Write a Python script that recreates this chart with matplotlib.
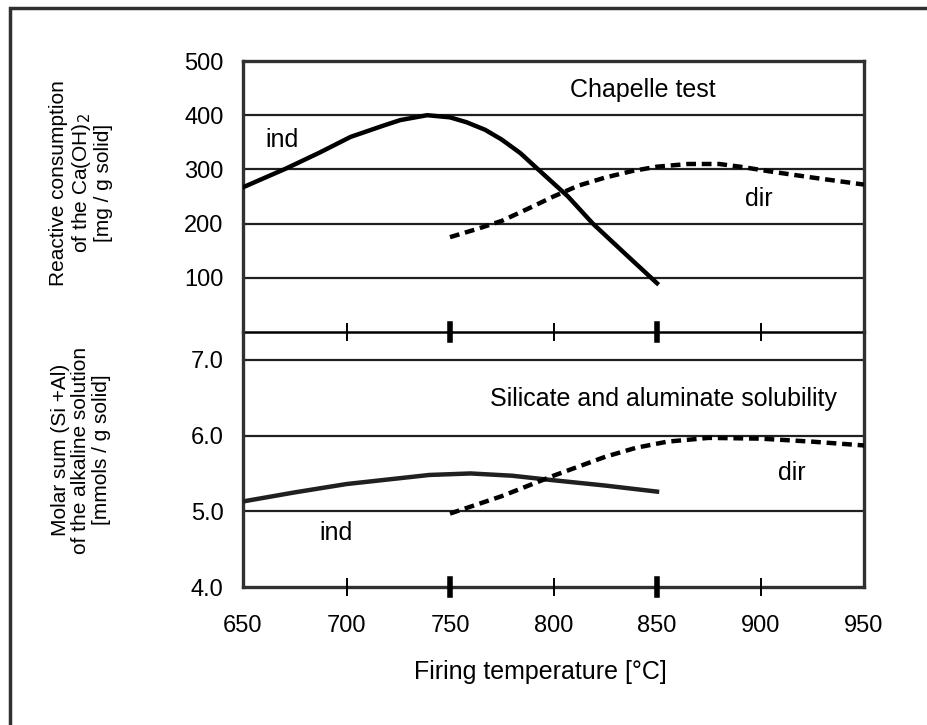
import matplotlib.pyplot as plt
from matplotlib.patches import Rectangle

plt.rcParams['font.family'] = ['Liberation Sans', 'DejaVu Sans']

# Chapelle test [mg Ca(OH)2 / g solid]
ind_top_t = [650, 671, 687, 702, 718, 726, 739, 750, 758, 767, 775, 784, 792,
             807, 819, 835, 850]
ind_top_v = [267, 302, 331, 360, 381, 391, 400, 396, 387, 373, 355, 330, 302,
             250, 200, 143, 90]
dir_top_t = [750, 763, 775, 788, 800, 812, 825, 838, 850, 865, 880, 892, 905,
             925, 950]
dir_top_v = [175, 190, 205, 228, 250, 270, 285, 297, 305, 310, 310, 304, 296,
             285, 272]

# Si + Al solubility [mmols / g solid]
ind_bot_t = [650, 675, 700, 720, 740, 760, 780, 800, 825, 850]
ind_bot_v = [5.13, 5.25, 5.36, 5.42, 5.48, 5.50, 5.47, 5.41, 5.34, 5.26]
dir_bot_t = [750, 775, 800, 825, 840, 855, 875, 900, 925, 950]
dir_bot_v = [4.97, 5.20, 5.47, 5.72, 5.84, 5.92, 5.97, 5.96, 5.92, 5.87]

x_ticks = [650, 700, 750, 800, 850, 900, 950]
top_ticks = [100, 200, 300, 400, 500]
bot_ticks = [4.0, 5.0, 6.0, 7.0]

fig = plt.figure(figsize=(9.27, 7.25), dpi=100)
W, H = 927, 725
left, right = 243 / W, 864 / W
y_top, y_mid, y_bot = 1 - 61 / H, 1 - 332 / H, 1 - 587 / H

ax1 = fig.add_axes([left, y_mid, right - left, y_top - y_mid])
ax2 = fig.add_axes([left, y_bot, right - left, y_mid - y_bot])
ax1.patch.set_visible(False)
ax2.patch.set_visible(False)

# outer frame (only left and top edges in view)
fig.patches.append(Rectangle((10 / W, -0.1), 1.2, 1 - 8 / H + 0.1,
                             transform=fig.transFigure, fill=False,
                             lw=2.5, ec='#303030'))

ax1.set_xlim(650, 950)
ax1.set_ylim(0, 500)
ax2.set_xlim(650, 950)
ax2.set_ylim(4.0, 4.0 + (587 - 332) / 75.7)

for ax, grid in ((ax1, [100, 200, 300, 400]), (ax2, [5.0, 6.0, 7.0])):
    for g in grid:
        ax.axhline(g, color='#202020', lw=1.6, zorder=1)
    for s in ax.spines.values():
        s.set_linewidth(2.4)
        s.set_color('#303030')
    ax.tick_params(axis='y', length=0, labelsize=17, pad=14)
    ax.tick_params(axis='x', length=0)
    # thin and thick x ticks crossing the axis line
    for t in [700, 800, 900]:
        ax.plot([t, t], [-0.03, 0.03], transform=ax.get_xaxis_transform(),
                color='black', lw=1.4, clip_on=False, zorder=5)
    for t in [750, 850]:
        ax.plot([t, t], [-0.03, 0.03], transform=ax.get_xaxis_transform(),
                color='black', lw=4, clip_on=False, zorder=5)

ax1.spines['bottom'].set_linewidth(1.8)
ax1.spines['bottom'].set_color('black')
ax2.spines['top'].set_visible(False)

ax1.set_yticks(top_ticks)
ax1.set_yticklabels([str(v) for v in top_ticks])
ax1.set_xticks([])
ax2.set_yticks(bot_ticks)
ax2.set_yticklabels([f'{v:.1f}' for v in bot_ticks])
ax2.set_xticks(x_ticks)
ax2.set_xticklabels([str(v) for v in x_ticks], fontsize=17)
ax2.tick_params(axis='x', pad=20)

ax1.plot(ind_top_t, ind_top_v, color='black', lw=3.2, zorder=3)
ax1.plot(dir_top_t, dir_top_v, color='black', lw=3.2, ls=(0, (2.2, 1.3)), zorder=3)
ax2.plot(ind_bot_t, ind_bot_v, color='#202020', lw=3.2, zorder=3)
ax2.plot(dir_bot_t, dir_bot_v, color='black', lw=3.2, ls=(0, (2.2, 1.3)), zorder=3)

ax1.text(843, 446, 'Chapelle test', ha='center', va='center', fontsize=18)
ax1.text(669, 354, 'ind', ha='center', va='center', fontsize=18)
ax1.text(899, 246, 'dir', ha='center', va='center', fontsize=18)
ax2.text(853, 6.49, 'Silicate and aluminate solubility', ha='center',
         va='center', fontsize=18)
ax2.text(695, 4.71, 'ind', ha='center', va='center', fontsize=18)
ax2.text(915, 5.50, 'dir', ha='center', va='center', fontsize=18)

fig.text(81 / W, 1 - 183 / H,
         'Reactive consumption\nof the Ca(OH)$_2$\n[mg / g solid]',
         rotation=90, ha='center', va='center', fontsize=15,
         linespacing=1.12)
fig.text(81 / W, 1 - 450 / H,
         'Molar sum (Si +Al)\nof the alkaline solution\n[mmols / g solid]',
         rotation=90, ha='center', va='center', fontsize=15,
         linespacing=1.12)
fig.text(540 / W, 1 - 660 / H, 'Firing temperature [°C]', ha='center',
         va='top', fontsize=18)

fig.savefig('out.png', dpi=100)
